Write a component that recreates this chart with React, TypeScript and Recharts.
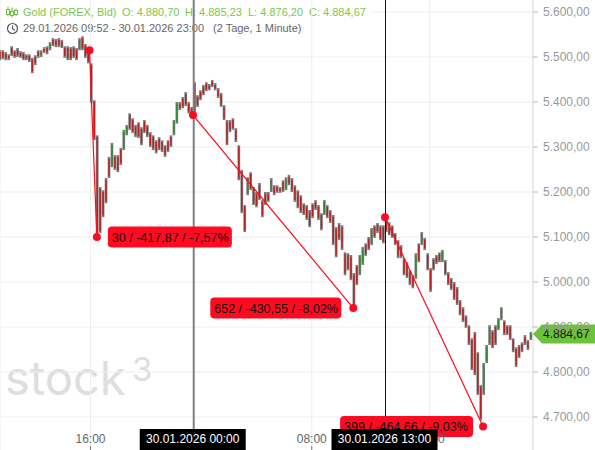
import React from 'react';
import {
  ComposedChart,
  Bar,
  XAxis,
  YAxis,
  CartesianGrid,
  ReferenceLine,
  ReferenceDot,
} from 'recharts';

const FONT = '"Liberation Sans", Arial, sans-serif';
const RED = '#ff0a20';
const GREEN = '#6cc23a';

// one candle every 12 trading minutes, starting 29.01. 09:52
const BAR_MINUTES = 12;
const TOTAL_MINUTES = 2168;
// the candles were read against a scale that sat 1px too high
const READ_OFFSET = 2;

const highs = [
  5513, 5513, 5509, 5504, 5522, 5513, 5518, 5511, 5509, 5504, 5504, 5496, 5502, 5513, 5513, 5520, 5522, 5531, 5540, 5538,
  5540, 5536, 5522, 5522, 5520, 5522, 5518, 5540, 5544, 5527, 5513, 5484, 5402, 5324, 5209, 5202, 5229, 5276, 5307, 5280,
  5280, 5296, 5336, 5347, 5373, 5362, 5347, 5353, 5342, 5358, 5347, 5331, 5324, 5313, 5320, 5313, 5302, 5313, 5324, 5358,
  5398, 5398, 5409, 5420, 5398, 5387, 5442, 5413, 5424, 5436, 5442, 5438, 5447, 5440, 5429, 5418, 5391, 5358, 5358, 5362,
  5340, 5302, 5247, 5169, 5231, 5242, 5209, 5198, 5218, 5180, 5198, 5198, 5229, 5213, 5213, 5209, 5224, 5231, 5236, 5229,
  5213, 5202, 5191, 5173, 5169, 5158, 5173, 5180, 5169, 5151, 5180, 5169, 5158, 5147, 5120, 5129, 5124, 5064, 5062, 5058,
  5018, 5036, 5058, 5076, 5084, 5098, 5118, 5124, 5129, 5124, 5124, 5136, 5131, 5124, 5107, 5091, 5080, 5051, 5042, 5024,
  5013, 5062, 5084, 5109, 5096, 5062, 5029, 5051, 5058, 5064, 5069, 5047, 5020, 5007, 4998, 4987, 4958, 4942, 4924, 4902,
  4873, 4887, 4842, 4769, 4818, 4858, 4902, 4891, 4902, 4918, 4942, 4913, 4902, 4902, 4873, 4853, 4858, 4864, 4880, 4869,
  4887,
];

const lows = [
  5491, 5493, 5491, 5491, 5500, 5496, 5498, 5496, 5491, 5491, 5487, 5462, 5480, 5496, 5498, 5507, 5504, 5513, 5522, 5520,
  5520, 5518, 5496, 5491, 5491, 5496, 5491, 5513, 5513, 5496, 5484, 5396, 5313, 5102, 5107, 5142, 5173, 5229, 5253, 5247,
  5242, 5258, 5291, 5324, 5336, 5329, 5320, 5318, 5302, 5329, 5320, 5298, 5291, 5284, 5291, 5287, 5276, 5287, 5298, 5324,
  5350, 5380, 5384, 5389, 5373, 5362, 5375, 5387, 5402, 5413, 5422, 5424, 5431, 5424, 5407, 5387, 5358, 5302, 5331, 5336,
  5309, 5224, 5151, 5109, 5191, 5202, 5169, 5164, 5180, 5142, 5169, 5176, 5198, 5191, 5196, 5196, 5198, 5202, 5213, 5198,
  5176, 5162, 5151, 5147, 5136, 5120, 5140, 5158, 5136, 5113, 5147, 5140, 5129, 5080, 5053, 5091, 5069, 5013, 5024, 5002,
  4942, 4991, 5013, 5036, 5056, 5069, 5080, 5096, 5107, 5091, 5084, 5109, 5102, 5096, 5080, 5051, 5051, 5013, 5007, 4991,
  4984, 5005, 5042, 5080, 5069, 5024, 4976, 5024, 5038, 5042, 5042, 5013, 4991, 4980, 4958, 4947, 4924, 4909, 4896, 4858,
  4802, 4791, 4747, 4691, 4747, 4818, 4858, 4851, 4858, 4891, 4913, 4880, 4880, 4869, 4842, 4809, 4829, 4842, 4858, 4847,
  4869,
];

const opens = [
  5509, 5509, 5505, 5500, 5518, 5509, 5514, 5507, 5505, 5500, 5500, 5492, 5498, 5509, 5502, 5516, 5518, 5517, 5536, 5534,
  5536, 5532, 5518, 5518, 5516, 5518, 5514, 5517, 5540, 5523, 5509, 5480, 5398, 5320, 5205, 5198, 5225, 5272, 5257, 5276,
  5276, 5292, 5295, 5328, 5369, 5358, 5343, 5349, 5338, 5354, 5343, 5327, 5320, 5309, 5316, 5309, 5298, 5309, 5320, 5328,
  5354, 5394, 5405, 5416, 5394, 5383, 5438, 5409, 5420, 5432, 5438, 5434, 5443, 5436, 5425, 5414, 5387, 5354, 5354, 5358,
  5336, 5298, 5243, 5165, 5195, 5238, 5205, 5194, 5214, 5176, 5194, 5194, 5202, 5209, 5209, 5205, 5220, 5206, 5232, 5225,
  5209, 5198, 5187, 5169, 5165, 5154, 5169, 5176, 5165, 5147, 5151, 5165, 5154, 5143, 5116, 5125, 5120, 5060, 5058, 5054,
  5014, 5032, 5017, 5040, 5080, 5094, 5084, 5120, 5125, 5120, 5120, 5132, 5127, 5120, 5103, 5087, 5076, 5047, 5038, 5020,
  5009, 5009, 5080, 5084, 5092, 5058, 5025, 5047, 5054, 5060, 5046, 5043, 5016, 5003, 4994, 4983, 4954, 4938, 4920, 4898,
  4869, 4883, 4838, 4765, 4751, 4822, 4862, 4887, 4898, 4895, 4917, 4909, 4898, 4898, 4869, 4849, 4854, 4860, 4876, 4865,
  4873,
];

const closes = [
  5495, 5497, 5495, 5495, 5504, 5500, 5502, 5500, 5495, 5495, 5491, 5466, 5484, 5500, 5509, 5511, 5508, 5527, 5526, 5524,
  5524, 5522, 5500, 5495, 5495, 5500, 5495, 5536, 5517, 5500, 5488, 5400, 5317, 5106, 5111, 5146, 5177, 5233, 5303, 5251,
  5246, 5262, 5332, 5343, 5340, 5333, 5324, 5322, 5306, 5333, 5324, 5302, 5295, 5288, 5295, 5291, 5280, 5291, 5302, 5354,
  5394, 5384, 5388, 5393, 5377, 5366, 5379, 5391, 5406, 5417, 5426, 5428, 5435, 5428, 5411, 5391, 5362, 5306, 5335, 5340,
  5313, 5228, 5155, 5113, 5227, 5206, 5173, 5168, 5184, 5146, 5173, 5180, 5225, 5195, 5200, 5200, 5202, 5227, 5217, 5202,
  5180, 5166, 5155, 5151, 5140, 5124, 5144, 5162, 5140, 5117, 5176, 5144, 5133, 5084, 5057, 5095, 5073, 5017, 5028, 5006,
  4946, 4995, 5054, 5072, 5060, 5073, 5114, 5100, 5111, 5095, 5088, 5113, 5106, 5100, 5084, 5055, 5055, 5017, 5011, 4995,
  4988, 5058, 5046, 5105, 5073, 5028, 4980, 5028, 5042, 5046, 5065, 5017, 4995, 4984, 4962, 4951, 4928, 4913, 4900, 4862,
  4806, 4795, 4751, 4695, 4814, 4854, 4898, 4855, 4862, 4914, 4938, 4884, 4884, 4873, 4846, 4813, 4833, 4846, 4862, 4851,
  4883,
];

const priceTicks = [5600, 5500, 5400, 5300, 5200, 5100, 5000, 4900, 4800, 4700];
// the two crosshair dates come last so their black tags lie over the plain labels
const timeTicks = [368, 1268, 1748, 788, 1568];
const timeLabels = ['16:00', '08:00', '16:00', '30.01.2026 00:00', '30.01.2026 13:00'];

// measured moves: trading minute and price at both ends
const moveStartMinutes = [364, 785, 1566];
const moveStartPrices = [5515, 5371, 5144];
const moveEndMinutes = [394, 1437, 1965];
const moveEndPrices = [5100, 4942, 4679];
const moveTexts = ['30 / -417,87 / -7,57%', '652 / -430,55 / -8,02%', '399 / -464,66 / -9,03%'];

const lastPrice = 4884.67;

// bubble layout for each move, left edge relative to the dot
const bubbleLefts = [11, -143, -143];
const bubbleWidths = [124, 131, 133];

const data = highs.map((high, i) => ({
  minute: i * BAR_MINUTES,
  range: [lows[i] + READ_OFFSET, high + READ_OFFSET],
  high: high + READ_OFFSET,
  low: lows[i] + READ_OFFSET,
  open: opens[i] + READ_OFFSET,
  close: closes[i] + READ_OFFSET,
}));

const formatPrice = (v: number) => {
  const [whole, dec] = v.toFixed(2).split('.');
  return `${whole.replace(/\B(?=(\d{3})+$)/g, '.')},${dec}`;
};

const Candle = (props: any) => {
  const { x, y, width, height, payload } = props;
  const cx = x + width / 2;
  const span = payload.high - payload.low || 1;
  const top = y + ((payload.high - Math.max(payload.open, payload.close)) / span) * height;
  const bottom = y + ((payload.high - Math.min(payload.open, payload.close)) / span) * height;
  const up = payload.close > payload.open;
  return (
    <g>
      <line x1={cx} x2={cx} y1={y} y2={y + height} stroke="#808080" strokeWidth={2.7} />
      <line x1={cx} x2={cx} y1={top} y2={bottom} stroke={up ? '#2f8a2f' : '#b81f1f'} strokeWidth={1.4} />
    </g>
  );
};

const TimeTick = (props: any) => {
  const { x, index } = props;
  const label = timeLabels[index];
  if (label.length > 5) {
    return (
      <g>
        <rect x={x - 54} y={429} width={106} height={21} fill="#000" />
        <text x={x - 1} y={443} textAnchor="middle" fontSize={12} fontFamily={FONT} fill="#fff">
          {label}
        </text>
      </g>
    );
  }
  return (
    <g>
      <line x1={x} x2={x} y1={446} y2={450} stroke="#777" />
      <text x={x} y={443} textAnchor="middle" fontSize={12} fontFamily={FONT} fill="#666">
        {label}
      </text>
    </g>
  );
};

// red dot with the bubble that names the move
const MoveDot = (props: any) => {
  const { cx, cy, text, offset, w } = props;
  const left = cx + offset;
  return (
    <g>
      <circle cx={cx} cy={cy} r={4} fill={RED} />
      <rect x={left} y={cy - 10.5} width={w} height={21} rx={4} fill={RED} />
      <text x={left + 4} y={cy + 4.5} fontSize={12.5} fontFamily={FONT} fill="#111">
        {text}
      </text>
    </g>
  );
};

const PriceTag = (props: any) => {
  const { cx, cy, text } = props;
  return (
    <g>
      <path
        d={`M${cx} ${cy} L${cx + 9} ${cy - 9.5} H${cx + 62} V${cy + 9.5} H${cx + 9} Z`}
        fill={GREEN}
      />
      <text x={cx + 10} y={cy + 4.5} fontSize={12} fontFamily={FONT} fill="#111">
        {text}
      </text>
    </g>
  );
};

const CandleIcon = () => (
  <svg width={12} height={12} style={{ position: 'absolute', left: 6, top: 6 }}>
    <g stroke={GREEN} fill="none" strokeWidth={1}>
      <path d="M2 0.5 V10.5 M6 1.5 V11.5 M10 2.5 V10" />
      <rect x={0.5} y={3.5} width={3} height={5} fill="#fff" />
      <rect x={4.5} y={5.5} width={3} height={4} fill="#fff" />
      <rect x={8.5} y={4.5} width={3} height={4} fill="#fff" />
    </g>
  </svg>
);

const ClockIcon = () => (
  <svg width={13} height={13} style={{ position: 'absolute', left: 6, top: 22 }}>
    <circle cx={6.5} cy={6.5} r={5} stroke="#555" strokeWidth={1.2} fill="none" />
    <path d="M6.5 3.5 V6.8 L9 8.3" stroke="#555" strokeWidth={1.1} fill="none" />
  </svg>
);

const headerStyle: React.CSSProperties = {
  position: 'absolute',
  fontSize: 11,
  fontFamily: FONT,
  whiteSpace: 'nowrap',
  lineHeight: '14px',
};

const greenParts: [number, string][] = [
  [23, 'Gold (FOREX, Bid)'],
  [122, 'O: 4.880,70'],
  [185, 'H: 4.885,23'],
  [248, 'L: 4.876,20'],
  [309, 'C: 4.884,67'],
];

export default function App() {
  return (
    <div style={{ position: 'absolute', left: 0, top: 0, width: 595, height: 450, overflow: 'hidden', background: '#fff' }}>
      <div
        style={{
          position: 'absolute',
          left: 5,
          top: 348,
          fontSize: 47,
          lineHeight: '60px',
          fontFamily: 'Inter, sans-serif',
          fontWeight: 400,
          color: '#dedede',
        }}
      >
        stock<span style={{ position: 'absolute', left: 127, top: -9, fontSize: 33 }}>3</span>
      </div>
      <CandleIcon />
      <ClockIcon />
      {greenParts.map(([left, text]) => (
        <div key={text} style={{ ...headerStyle, left, top: 5, color: '#7dc74a' }}>
          {text}
        </div>
      ))}
      <div style={{ ...headerStyle, left: 23, top: 21, color: '#666' }}>29.01.2026 09:52 - 30.01.2026 23:00</div>
      <div style={{ ...headerStyle, left: 213, top: 21, color: '#666' }}>(2 Tage, 1 Minute)</div>
      <ComposedChart
        width={595}
        height={450}
        data={data}
        margin={{ top: 0, right: 0, bottom: -20, left: 0 }}
        style={{ position: 'absolute', left: 0, top: 0 }}
      >
        <CartesianGrid stroke="#eeeeee" horizontalValues={priceTicks.slice(1)} />
        <XAxis
          dataKey="minute"
          type="number"
          domain={[0, TOTAL_MINUTES]}
          ticks={timeTicks}
          interval={0}
          height={20}
          axisLine={false}
          tickLine={false}
          tick={<TimeTick />}
        />
        <YAxis
          orientation="right"
          width={62}
          type="number"
          domain={[4626.67, 5626.67]}
          allowDataOverflow
          ticks={priceTicks}
          interval={0}
          tickFormatter={formatPrice}
          tickSize={5}
          tickMargin={5}
          stroke="#bbb"
          axisLine={{ stroke: '#dddddd' }}
          tick={{ fontSize: 12, fontFamily: FONT, fill: '#999', textAnchor: 'start' }}
        />
        <ReferenceLine segment={[{ x: 1513, y: 5600 }, { x: TOTAL_MINUTES, y: 5600 }]} stroke="#eeeeee" />
        <Bar dataKey="range" barSize={3} shape={<Candle />} isAnimationActive={false} />
        <ReferenceLine x={788} stroke="#808080" strokeWidth={2} />
        <ReferenceLine x={1568} stroke="#111" strokeWidth={1} />
        {moveTexts.map((text, i) => (
          <ReferenceLine
            key={text}
            segment={[
              { x: moveStartMinutes[i], y: moveStartPrices[i] },
              { x: moveEndMinutes[i], y: moveEndPrices[i] },
            ]}
            stroke={RED}
            strokeWidth={1.2}
          />
        ))}
        {moveTexts.map((text, i) => (
          <ReferenceDot key={`${text}-a`} x={moveStartMinutes[i]} y={moveStartPrices[i]} r={4} fill={RED} stroke="none" />
        ))}
        {moveTexts.map((text, i) => (
          <ReferenceDot
            key={`${text}-b`}
            x={moveEndMinutes[i]}
            y={moveEndPrices[i]}
            shape={<MoveDot text={text} offset={bubbleLefts[i]} w={bubbleWidths[i]} />}
          />
        ))}
        <ReferenceDot x={TOTAL_MINUTES} y={lastPrice} shape={<PriceTag text={formatPrice(lastPrice)} />} />
      </ComposedChart>
    </div>
  );
}
